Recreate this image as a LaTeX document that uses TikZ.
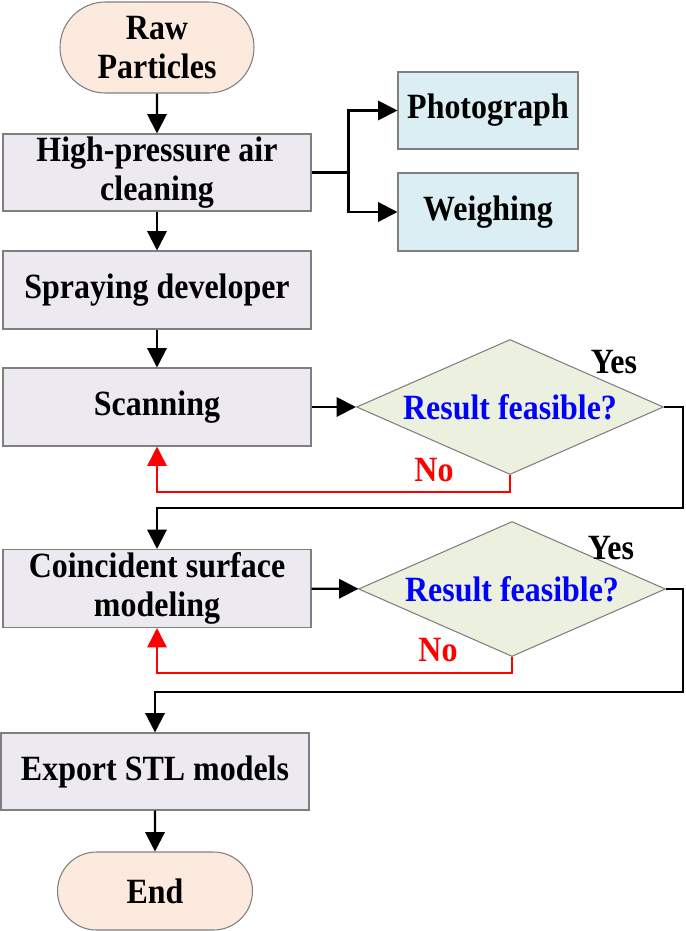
\documentclass[tikz,border=0pt]{standalone}
\usepackage{fontspec}
\setmainfont{Liberation Serif}[FakeStretch=0.9]
\usepackage{xcolor}
\usetikzlibrary{shapes.geometric,shapes.misc,arrows.meta}

\definecolor{pillfill}{HTML}{FBEADD}
\definecolor{boxfill}{HTML}{ECE9F1}
\definecolor{sidefill}{HTML}{DBEEF3}
\definecolor{askfill}{HTML}{EBF1DE}
\definecolor{edgegray}{HTML}{7F7F7F}

\begin{document}
\begin{tikzpicture}[
        every node/.style={font=\fontsize{20.2}{21.8}\selectfont\bfseries, align=center},
        pill/.style={rounded rectangle, draw=edgegray, fill=pillfill, line width=0.6pt, inner sep=0pt},
        stepbox/.style={rectangle, draw=edgegray, fill=boxfill, line width=0.6pt, minimum width=6.16cm, minimum height=1.54cm, inner sep=0pt},
        sidebox/.style={rectangle, draw=edgegray, fill=sidefill, line width=0.6pt, minimum width=3.6cm, minimum height=1.54cm, inner sep=0pt},
        ask/.style={diamond, aspect=2.28, draw=edgegray, fill=askfill, line width=0.6pt, minimum width=6.14cm, minimum height=2.7cm, inner sep=0pt, text=blue},
        arr/.style={-{Triangle[length=11pt,width=11pt]}, line width=1.2pt},
        back/.style={arr, red, line width=0.9pt},
        yes/.style={text=black},
        no/.style={text=red}
    ]
            \useasboundingbox (0,0) rectangle (13.7,-18.62);

            \node[pill, minimum width=3.88cm, minimum height=1.82cm] (raw) at (3.14, -0.95) {Raw\\Particles};
            \node[stepbox] (clean) at (3.14, -3.45) {High-pressure air\\cleaning};
            \node[sidebox] (photo) at (9.76, -2.21) {Photograph};
            \node[sidebox, minimum height=1.56cm] (weigh) at (9.76, -4.24) {Weighing};
            \node[stepbox, minimum height=1.56cm] (spray) at (3.14, -5.8) {Spraying developer};
            \node[stepbox, minimum height=1.56cm] (scan) at (3.14, -8.14) {Scanning};
            \node[ask] (ask1) at (10.2, -8.14) {Result feasible?};
            \node[stepbox, minimum height=1.56cm] (model) at (3.14, -11.77) {Coincident surface\\modeling};
            \node[ask] (ask2) at (10.24, -11.78) {Result feasible?};
            \node[stepbox] (export) at (3.1, -15.43) {Export STL models};
            \node[pill, minimum width=3.9cm, minimum height=1.56cm] (end) at (3.1, -17.82) {End};

            \node[yes] (yes1) at (12.28, -7.24) {Yes};
            \node[no] (no1) at (8.68, -9.4) {No};
            \node[yes] (yes2) at (12.22, -10.96) {Yes};
            \node[no] (no2) at (8.76, -13.0) {No};

            \coordinate (turn1) at (13.66, -10.16);
            \coordinate (turn2) at (13.66, -13.84);

            \draw[arr] (raw) -- (clean);
            \draw[line width=1.2pt] (clean.east) -- ++(0.74,0) coordinate (fork);
            \draw[arr] (fork) |- (photo.west);
            \draw[arr] (fork) |- (weigh.west);
            \draw[arr] (clean) -- (spray);
            \draw[arr] (spray) -- (scan);
            \draw[arr] (scan) -- (ask1);
            \draw[back] (ask1.south) -- ++(0,-0.34) -| (scan.south);
            \draw[arr] (ask1.east) -| (turn1) -| (model.north);
            \draw[arr] (model) -- (ask2);
            \draw[back] (ask2.south) -- ++(0,-0.32) -| (model.south);
            \draw[arr] (ask2.east) -| (turn2) -| (export.north);
            \draw[arr] (export) -- (end);
\end{tikzpicture}
\end{document}
